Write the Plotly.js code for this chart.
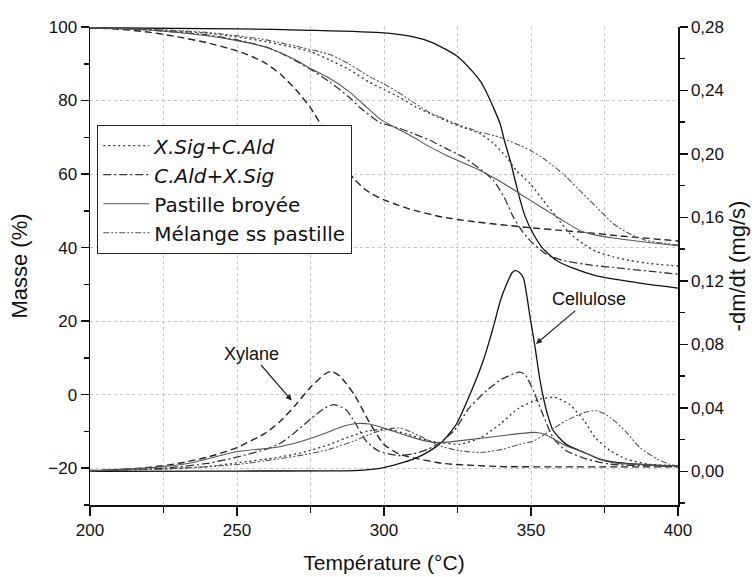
<!DOCTYPE html>
<html>
<head>
<meta charset="utf-8">
<script src="https://cdn.plot.ly/plotly-3.0.1.min.js"></script>
<style>html,body{margin:0;padding:0;background:#fff;}#chart{width:752px;height:577px;}</style>
</head>
<body>
<div id="chart"></div>
<script>
// ---------- TG curves (Masse %, left axis) ----------
const xylTG_T = [200,210,220,230,240,250,255,260,265,270,275,280,285,290,295,300,305,310,320,330,340,350,360,370,380,390,400];
const xylTG_m = [99.8,99.4,98.6,97.3,95.7,93.5,92,90,87,83,78,71.5,64,58.5,55,53,51.5,50.2,48.3,47.1,46.2,45.4,44.7,44,43.2,42.5,41.8];

const celTG_T = [200,250,275,300,310,316,321,325,330,333,335,337,339.5,341,343,345,346.3,348,350.8,354,358.7,365,372,380,390,400];
const celTG_m = [99.8,99.5,99.1,98.4,97.3,95.9,93.9,92,88,85,82,78.5,73.7,69,63.5,57,53,48.5,43.7,39.8,36.5,34.2,32.4,31.2,30,29];

const xsTG_T = [200,220,240,250,260,270,275,281.6,288,295,300,305,311,315.6,324,332.7,337,341.7,345,349.7,354,358.7,363,367.8,372,378,383.7,390,400];
const xsTG_m = [99.8,99.3,98.3,97.3,96,94.3,93.3,91,88.5,85,83,81,78.2,76.5,73.5,71,68.5,64.6,61,57.4,53,48.3,44,41,39,37.5,36.5,35.7,35];

const caTG_T = [200,220,240,250,260,266,270,275,281.6,288,292,298.6,304,310,315.6,321,327,332,337.2,341,344,347,349.7,355,361,370,378,390,400];
const caTG_m = [99.8,99.2,97.8,96.5,94.5,92.5,90.8,88.5,85,81,78,74,72.8,71,69.2,67,64.6,61.8,58.3,53.5,48.3,44.5,41.9,38.3,36.5,35.3,34.6,33.6,32.8];

const pbTG_T = [200,220,240,250,260,270,275,281.6,288,293,298.6,303,310,315.6,322,332.7,340,346.3,355.3,360,366.7,372,378,390,400];
const pbTG_m = [99.8,99.2,97.6,96.3,94.5,91,88.7,86,82.5,79,75,73,70,67.4,64.8,61,57.8,54.6,50.1,47.8,44.6,43.4,42.6,41.4,40.5];

const mlTG_T = [200,220,240,250,260,270,281.6,288,295,300,304.3,310,316,319,325,332.5,339.5,345,349.7,355,361,366,372.3,378,383.7,389,395,400];
const mlTG_m = [99.8,99.4,98.5,97.6,96.5,94.8,92.5,90,86.5,84.5,82.5,79.5,76.5,75.5,73.5,71.5,70,68.2,66.5,63.8,60,56,51,46.5,43.7,42,41.2,40.7];

// ---------- DTG curves (-dm/dt mg/s, right axis) ----------
const xylD_T = [200,210,220,230,240,250,260,265,270,275,280,282,285,290,295,300,305,310,320,330,340,360,380,400];
const xylD_v = [0.0005,0.001,0.0025,0.005,0.009,0.015,0.0245,0.032,0.042,0.053,0.0615,0.063,0.060,0.048,0.031,0.017,0.011,0.0085,0.005,0.0038,0.003,0.0028,0.0028,0.0028];

const celD_T = [200,250,280,290,300,310,315.6,320,324.7,329.3,333.8,337.2,339.5,341.7,343.5,344.6,346,347.4,349.7,351.4,353.1,355.3,357.6,362,368,373.5,379,390,400];
const celD_v = [0.0,0.0002,0.0003,0.0005,0.0024,0.0077,0.0129,0.019,0.030,0.0487,0.070,0.091,0.107,0.118,0.125,0.1265,0.1255,0.122,0.097,0.078,0.057,0.038,0.0256,0.017,0.012,0.0077,0.0056,0.0041,0.0035];

const xsD_T = [200,225,240,251,263.5,272.6,281.6,287,295,301,308,314.5,319,326,333,339.5,346,353,358,363,368,372,377,382.5,390,400];
const xsD_v = [0.0003,0.0015,0.003,0.0056,0.0087,0.012,0.017,0.021,0.0256,0.0266,0.0235,0.0197,0.0182,0.0171,0.0213,0.0298,0.040,0.0455,0.0466,0.0424,0.032,0.021,0.013,0.0077,0.0045,0.0035];

const caD_T = [200,225,240,250,260,265,270,275,280,283,287,290,294,298,305,310,315,319,324,329,335,340,346,348,351,354,357.6,362,369,377,390,400];
const caD_v = [0.0003,0.002,0.005,0.009,0.014,0.018,0.025,0.033,0.040,0.042,0.039,0.031,0.019,0.013,0.010,0.011,0.014,0.018,0.026,0.040,0.051,0.058,0.0625,0.061,0.050,0.036,0.021,0.013,0.0077,0.0045,0.0035,0.003];

const pbD_T = [200,225,235,250,263,272,280,285,290,295,301,308,314,319,329,340,346,352,355,358,362,368,373,379,390,400];
const pbD_v = [0.0003,0.003,0.0056,0.0125,0.015,0.019,0.024,0.0277,0.030,0.0298,0.0266,0.0224,0.0192,0.018,0.020,0.0224,0.0238,0.0245,0.023,0.020,0.016,0.012,0.0077,0.0052,0.004,0.0035];

const mlD_T = [200,225,240,251,263.5,272.6,281.6,289.6,298.6,305.4,312,319,326,333,340.6,346,351,356.5,362,368,372.3,377,382.5,387,393,397,400];
const mlD_v = [0.0003,0.0015,0.003,0.0045,0.0077,0.0104,0.014,0.019,0.0256,0.0273,0.0224,0.016,0.0129,0.0119,0.014,0.017,0.0192,0.0256,0.032,0.037,0.0382,0.034,0.0245,0.015,0.0077,0.0045,0.0035];

// ---------- labels ----------
const legendNames = ["<i>X.Sig+C.Ald</i>", "<i>C.Ald+X.Sig</i>", "Pastille broyée", "Mélange ss pastille"];
const xTicks = [200,250,300,350,400];

const DOT = "2px,3px";
const DASHDOT = "8px,3px,2px,3px";
const DASHDOTDOT = "6px,2px,2px,2px,2px,2px";
const DASH = "7px,4px";

function tr(x, y, axis, dash, color, width, name, showlegend) {
  return {x: x, y: y, yaxis: axis, type: 'scatter', mode: 'lines',
    line: {color: color, width: width, dash: dash, shape: 'spline', smoothing: 0.6},
    name: name || '', showlegend: !!showlegend, hoverinfo: 'skip'};
}

const data = [
  tr(xylTG_T, xylTG_m, 'y', DASH, '#222', 1.4),
  tr(celTG_T, celTG_m, 'y', 'solid', '#111', 1.3),
  tr(xsTG_T, xsTG_m, 'y', DOT, '#333', 1.3, legendNames[0], true),
  tr(caTG_T, caTG_m, 'y', DASHDOT, '#333', 1.3, legendNames[1], true),
  tr(pbTG_T, pbTG_m, 'y', 'solid', '#555', 1.1, legendNames[2], true),
  tr(mlTG_T, mlTG_m, 'y', DASHDOTDOT, '#555', 1.1, legendNames[3], true),
  tr(xylD_T, xylD_v, 'y2', DASH, '#222', 1.4),
  tr(celD_T, celD_v, 'y2', 'solid', '#111', 1.3),
  tr(xsD_T, xsD_v, 'y2', DOT, '#333', 1.3),
  tr(caD_T, caD_v, 'y2', DASHDOT, '#333', 1.3),
  tr(pbD_T, pbD_v, 'y2', 'solid', '#555', 1.1),
  tr(mlD_T, mlD_v, 'y2', DASHDOTDOT, '#555', 1.1)
];

const gridCol = '#c4c4c4';
const layout = {
  width: 752, height: 577,
  margin: {l: 90, r: 74, t: 27, b: 72, pad: 0},
  paper_bgcolor: '#fff', plot_bgcolor: '#fff',
  separators: ', ',
  font: {family: 'Liberation Sans, Arial, sans-serif', color: '#111', size: 17},
  showlegend: true,
  legend: {x: 0.012, y: 0.795, xanchor: 'left', yanchor: 'top', bgcolor: '#fff',
           bordercolor: '#222', borderwidth: 1.2,
           font: {family: 'DejaVu Sans, Liberation Sans, sans-serif', size: 20, color: '#111'},
           tracegroupgap: 0, itemwidth: 46},
  xaxis: {range: [200, 400], tickvals: xTicks, ticks: 'outside', ticklen: 9, tickwidth: 1.5, tickcolor: '#111',
          showline: true, linewidth: 2, linecolor: '#111', zeroline: false,
          showgrid: true, gridcolor: gridCol, griddash: 'dot', gridwidth: 1,
          minor: {dtick: 25, tick0: 200, ticks: 'outside', ticklen: 6, tickwidth: 1.5, tickcolor: '#111',
                  showgrid: true, gridcolor: gridCol, griddash: 'dot', gridwidth: 1},
          tickfont: {size: 17}, title: {text: 'Température (°C)', font: {size: 21}, standoff: 16}},
  yaxis: {range: [-30, 100], tick0: 0, dtick: 20, ticks: 'outside', ticklen: 8, tickwidth: 1.5, tickcolor: '#111',
          showline: true, linewidth: 1.5, linecolor: '#111', zeroline: false,
          showgrid: true, gridcolor: gridCol, griddash: 'dot', gridwidth: 1,
          minor: {dtick: 10, tick0: 0, ticks: 'outside', ticklen: 5, tickwidth: 1.5, tickcolor: '#111', showgrid: false},
          tickfont: {size: 17}, title: {text: 'Masse (%)', font: {size: 22}, standoff: 14}},
  yaxis2: {overlaying: 'y', side: 'right', range: [-0.0212, 0.28], tick0: 0, dtick: 0.04, tickformat: '.2f',
           ticks: 'outside', ticklen: 8, tickwidth: 1.5, tickcolor: '#111',
           showline: true, linewidth: 1.5, linecolor: '#111', zeroline: false, showgrid: false,
           minor: {dtick: 0.02, tick0: 0, ticks: 'outside', ticklen: 5, tickwidth: 1.5, tickcolor: '#111', showgrid: false},
           tickfont: {size: 17}, title: {text: '-dm/dt (mg/s)', font: {size: 22}, standoff: 6}},
  annotations: [
    {text: 'Xylane', x: 268.6, y: -1.6, xref: 'x', yref: 'y', ax: 254.8, ay: 11.2, axref: 'x', ayref: 'y',
     showarrow: true, arrowhead: 2, arrowsize: 1, arrowwidth: 1.2, arrowcolor: '#222', font: {size: 18, color: '#111'}},
    {text: 'Cellulose', x: 351.7, y: 13.8, xref: 'x', yref: 'y', ax: 369.7, ay: 26, axref: 'x', ayref: 'y',
     showarrow: true, arrowhead: 2, arrowsize: 1, arrowwidth: 1.2, arrowcolor: '#222', font: {size: 18, color: '#111'}}
  ]
};

Plotly.newPlot('chart', data, layout, {displayModeBar: false, staticPlot: true});
</script>
</body>
</html>
